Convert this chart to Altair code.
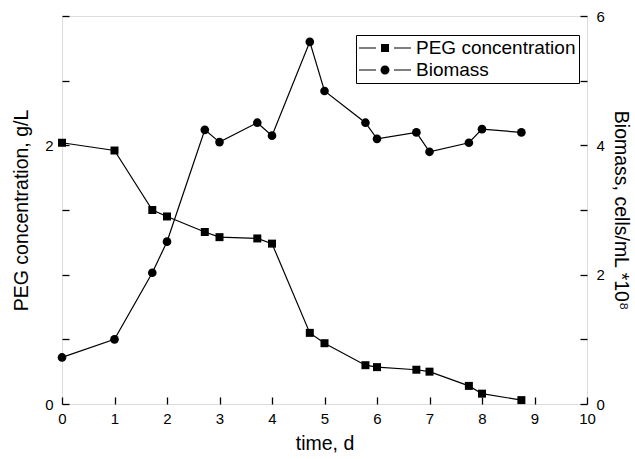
import altair as alt
import pandas as pd

# Sampling times (days) shared by both series
time_d = [0, 1, 1.72, 2, 2.72, 3, 3.72, 4, 4.72, 5, 5.78, 6, 6.75, 7, 7.75, 8, 8.75]
# PEG concentration, g/L (left axis)
peg_conc = [2.02, 1.96, 1.50, 1.45, 1.33, 1.29, 1.28, 1.24, 0.55, 0.47,
            0.30, 0.285, 0.265, 0.25, 0.14, 0.08, 0.03]
# Biomass, cells/mL x 10^8 (right axis)
biomass = [0.72, 1.00, 2.03, 2.51, 4.24, 4.05, 4.35, 4.15, 5.60, 4.84,
           4.35, 4.10, 4.20, 3.90, 4.04, 4.25, 4.20]

series_names = ["PEG concentration", "Biomass"]
x_ticks = list(range(0, 11))
left_labels = [0, 2]
left_ticks = [0, 0.5, 1, 1.5, 2, 2.5, 3]
right_labels = [0, 2, 4, 6]
right_ticks = [0, 1, 2, 3, 4, 5, 6]

W, H = 525, 388
FONT = "Liberation Sans"
TITLE_SIZE = 19.5

peg_df = pd.DataFrame({"time": time_d, "value": peg_conc, "series": series_names[0]})
bio_df = pd.DataFrame({"time": time_d, "value": biomass, "series": series_names[1]})

x_scale = alt.Scale(domain=[0, 10], nice=False, zero=False)
left_scale = alt.Scale(domain=[0, 3], nice=False)
right_scale = alt.Scale(domain=[0, 6], nice=False)

common_axis = dict(grid=False, domain=False, labelFont=FONT, titleFont=FONT,
                   labelColor="black", titleColor="black", titleFontWeight="normal",
                   tickColor="black", tickWidth=1.3, labelFlush=False)

# Bottom axis: labels + title only
x_label_axis = alt.Axis(orient="bottom", values=x_ticks, ticks=False, tickSize=0,
                        labelFontSize=15, labelPadding=7, title="time, d",
                        titleFontSize=TITLE_SIZE, titlePadding=8, **common_axis)
# Inward-pointing ticks along the bottom edge
x_tick_axis = alt.Axis(orient="top", offset=-H, values=x_ticks, labels=False,
                       tickSize=7, title=None, **common_axis)

peg_label_axis = alt.Axis(orient="left", values=left_labels, ticks=False, tickSize=0,
                          labelFontSize=15, labelPadding=9,
                          title="PEG concentration, g/L", titleFontSize=TITLE_SIZE,
                          titlePadding=13, **common_axis)
peg_tick_axis = alt.Axis(orient="right", offset=-W, values=left_ticks, labels=False,
                         tickSize=7, title=None, **common_axis)

bio_label_axis = alt.Axis(orient="right", values=right_labels, ticks=False, tickSize=0,
                          labelFontSize=15, labelPadding=9,
                          title="Biomass, cells/mL *10⁸", titleFontSize=TITLE_SIZE,
                          titlePadding=6, **common_axis)
bio_tick_axis = alt.Axis(orient="left", offset=-W, values=right_ticks, labels=False,
                         tickSize=7, title=None, **common_axis)

peg_line = alt.Chart(peg_df).mark_line(color="black", strokeWidth=1.2).encode(
    x=alt.X("time:Q", scale=x_scale, axis=x_label_axis),
    y=alt.Y("value:Q", scale=left_scale, axis=peg_label_axis),
)
peg_pts = alt.Chart(peg_df).mark_point(shape="square", filled=True, size=64,
                                       color="black", opacity=1).encode(
    x=alt.X("time:Q", scale=x_scale, axis=x_tick_axis),
    y=alt.Y("value:Q", scale=left_scale, axis=peg_tick_axis),
)
bio_line = alt.Chart(bio_df).mark_line(color="black", strokeWidth=1.2).encode(
    x=alt.X("time:Q", scale=x_scale, axis=None),
    y=alt.Y("value:Q", scale=right_scale, axis=bio_label_axis),
)
bio_pts = alt.Chart(bio_df).mark_point(shape="circle", filled=True, size=75,
                                       color="black", opacity=1).encode(
    x=alt.X("time:Q", scale=x_scale, axis=None),
    y=alt.Y("value:Q", scale=right_scale, axis=bio_tick_axis),
)

# Legend symbols (line - marker - line), built from filled shapes only
dashes = "M-1,-0.06H0.7V0.06H-1Z M2.5,-0.06H4.2V0.06H2.5Z "
sq_sym = dashes + "M1.2,-0.4H2.0V0.4H1.2Z"
ci_sym = dashes + "M2.05,0A0.45,0.45 0 1,1 1.15,0A0.45,0.45 0 1,1 2.05,0Z"

legend_layer = alt.Chart(peg_df).transform_filter("false").mark_point(
    filled=True, color="black", opacity=1).encode(
    x=alt.X("time:Q", scale=x_scale, axis=None),
    y=alt.Y("value:Q", scale=left_scale, axis=None),
    shape=alt.Shape("series:N",
                    scale=alt.Scale(domain=series_names, range=[sq_sym, ci_sym]),
                    legend=alt.Legend(title=None, orient="none", legendX=294, legendY=19,
                                      strokeColor="black", fillColor="white",
                                      padding=3, labelFont=FONT, labelFontSize=19,
                                      labelColor="black", labelOffset=37,
                                      symbolSize=400, symbolStrokeWidth=0,
                                      symbolFillColor="black",
                                      symbolOpacity=1, rowPadding=2)),
)

chart = alt.layer(peg_line, peg_pts, bio_line, bio_pts, legend_layer).resolve_scale(
    x="independent", y="independent", shape="independent"
).properties(
    width=W, height=H, autosize="none",
    padding={"left": 62, "top": 16, "right": 48, "bottom": 55},
).configure_view(stroke="black", strokeWidth=1.5).configure(font=FONT, background="white")

chart.save("out.html", embed_options={"renderer": "svg", "actions": False})
